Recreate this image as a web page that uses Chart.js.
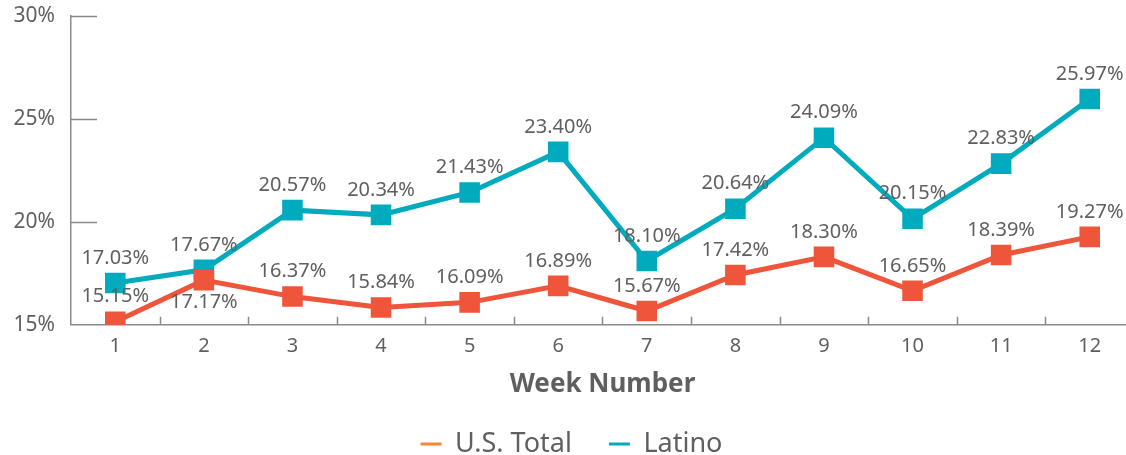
<!DOCTYPE html>
<html>
<head>
<meta charset="utf-8">
<script src="https://cdn.jsdelivr.net/npm/chart.js@4"></script>
<style>
  html, body { margin: 0; padding: 0; background: #fff; overflow: hidden; }
  #wrap { width: 1150px; height: 455px; }
</style>
</head>
<body>
<div id="wrap"><canvas id="myChart" width="1150" height="455"></canvas></div>
<script>
const weeks = ['1', '2', '3', '4', '5', '6', '7', '8', '9', '10', '11', '12'];
const usTotal = [15.15, 17.17, 16.37, 15.84, 16.09, 16.89, 15.67, 17.42, 18.30, 16.65, 18.39, 19.27];
const latino = [17.03, 17.67, 20.57, 20.34, 21.43, 23.40, 18.10, 20.64, 24.09, 20.15, 22.83, 25.97];
const yTicks = [15, 20, 25, 30];

const FONT = '"Noto Sans", Lato, sans-serif';
const GREY = '#5f5f5f';
const AXIS = '#8a8a8a';
const RED = '#ef553a';
const TEAL = '#01abbe';
const LEGEND_ORANGE = '#f7883a';

// labels that sit under their point instead of over it
const belowIdx = { 0: [1], 1: [] };

// value labels drawn by hand (no datalabels plugin here)
const valueLabels = {
    id: 'valueLabels',
    afterDatasetsDraw(chart) {
        const ctx = chart.ctx;
        ctx.save();
        ctx.font = '20px ' + FONT;
        ctx.fillStyle = GREY;
        ctx.textAlign = 'center';
        ctx.textBaseline = 'middle';
        chart.data.datasets.forEach((ds, di) => {
            chart.getDatasetMeta(di).data.forEach((pt, i) => {
                const below = belowIdx[di].includes(i);
                ctx.fillText(ds.data[i].toFixed(2) + '%', pt.x, pt.y + (below ? 22 : -25));
            });
        });
        ctx.restore();
    }
};

// short tick marks pointing into the plot
const innerTicks = {
    id: 'innerTicks',
    beforeDatasetsDraw(chart) {
        const { ctx, chartArea, scales } = chart;
        ctx.save();
        ctx.strokeStyle = AXIS;
        ctx.lineWidth = 1.5;
        ctx.beginPath();
        yTicks.forEach(v => {
            if (v === scales.y.min) return;
            const py = Math.round(scales.y.getPixelForValue(v)) + 0.5;
            ctx.moveTo(chartArea.left, py);
            ctx.lineTo(chartArea.left + 26, py);
        });
        const step = scales.x.getPixelForValue(1) - scales.x.getPixelForValue(0);
        for (let i = 0; i < weeks.length; i++) {
            const px = Math.round(scales.x.getPixelForValue(i) + step / 2) + 0.5;
            ctx.moveTo(px, chartArea.bottom);
            ctx.lineTo(px, chartArea.bottom - 8);
        }
        ctx.stroke();
        ctx.restore();
    }
};

const ctx = document.getElementById('myChart').getContext('2d');
new Chart(ctx, {
    type: 'line',
    data: {
        labels: weeks,
        datasets: [{
            label: 'U.S. Total',
            data: usTotal,
            borderColor: RED,
            backgroundColor: RED,
            borderWidth: 5,
            pointStyle: 'rect',
            pointRadius: 11,
            pointHoverRadius: 11,
            fill: false
        }, {
            label: 'Latino',
            data: latino,
            borderColor: TEAL,
            backgroundColor: TEAL,
            borderWidth: 5,
            pointStyle: 'rect',
            pointRadius: 11,
            pointHoverRadius: 11,
            fill: false
        }]
    },
    options: {
        responsive: false,
        animation: false,
        devicePixelRatio: 1,
        layout: { padding: { top: 5, right: 7, left: 0, bottom: -12.5 } },
        scales: {
            x: {
                offset: true,
                grid: { display: true, drawOnChartArea: false, drawTicks: false },
                border: { display: true, color: AXIS, width: 1.5 },
                ticks: { color: GREY, font: { family: FONT, size: 20 }, padding: 9 },
                title: {
                    display: true,
                    text: 'Week Number',
                    color: GREY,
                    font: { family: FONT, size: 26, weight: 'bold' },
                    padding: { top: 2, bottom: -6.5 }
                }
            },
            y: {
                min: 15,
                max: 30,
                afterFit(scale) { scale.width = 71; },
                afterBuildTicks(scale) { scale.ticks = yTicks.map(v => ({ value: v })); },
                grid: {
                    display: true,
                    drawOnChartArea: false,
                    drawTicks: true,
                    tickLength: 16,
                    tickColor: 'rgba(0,0,0,0)'
                },
                border: { display: true, color: AXIS, width: 1.5 },
                ticks: {
                    color: GREY,
                    font: { family: FONT, size: 21 },
                    padding: 0,
                    callback: v => v + '%'
                }
            }
        },
        plugins: {
            tooltip: { enabled: false },
            legend: {
                position: 'bottom',
                labels: {
                    color: GREY,
                    font: { family: FONT, size: 27 },
                    usePointStyle: true,
                    pointStyleWidth: 21,
                    boxHeight: 10,
                    padding: 37,
                    generateLabels(chart) {
                        const cols = [LEGEND_ORANGE, TEAL];
                        return chart.data.datasets.map((ds, i) => ({
                            text: ds.label,
                            strokeStyle: cols[i],
                            fillStyle: cols[i],
                            fontColor: GREY,
                            lineWidth: 3,
                            pointStyle: 'line',
                            hidden: false,
                            datasetIndex: i
                        }));
                    }
                }
            }
        }
    },
    plugins: [innerTicks, valueLabels]
});
</script>
</body>
</html>
